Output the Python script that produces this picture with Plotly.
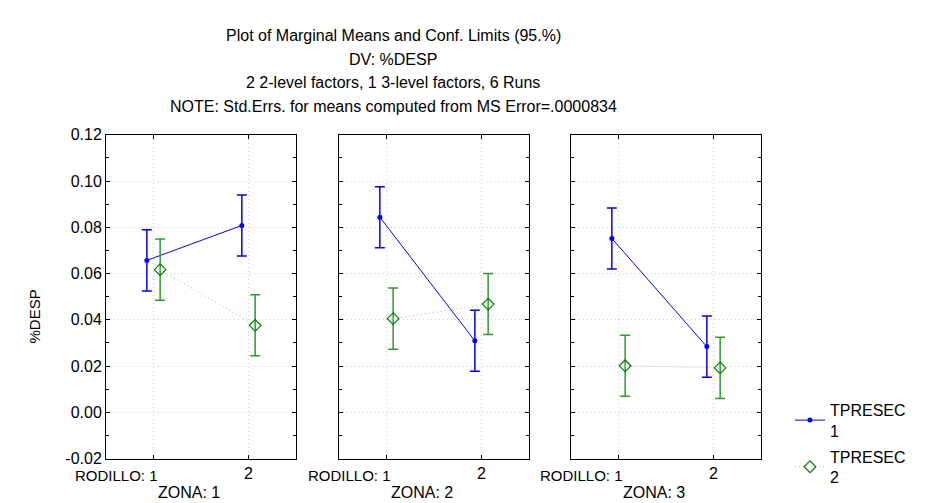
import plotly.graph_objects as go

# ---- data ----
zones = ["ZONA: 1", "ZONA: 2", "ZONA: 3"]
rodillo = [1, 2]
rodillo_labels = ["RODILLO: 1", "2"]
tpresec_names = ["TPRESEC<br>1", "TPRESEC<br>2"]
tpresec1_means = [[0.0657, 0.0808], [0.0844, 0.0309], [0.0752, 0.0284]]
tpresec2_means = [[0.0617, 0.0376], [0.0405, 0.0468], [0.0201, 0.0192]]
ci_half = 0.0132
y_ticks = [-0.02, 0.00, 0.02, 0.04, 0.06, 0.08, 0.10, 0.12]
y_tick_labels = ["-0.02", "0.00", "0.02", "0.04", "0.06", "0.08", "0.10", "0.12"]
title_lines = [
    "Plot of Marginal Means and Conf. Limits (95.%)",
    "DV: %DESP",
    "2 2-level factors, 1 3-level factors, 6 Runs",
    "NOTE: Std.Errs. for means computed from MS Error=.0000834",
]
y_title = "%DESP"

# ---- styling ----
W, H = 933, 503
FONT = "Liberation Sans, Arial, sans-serif"
BLUE = "#0000ff"
GREEN = "#008000"
GREEN_LINE = "#7fcf7f"
GRID = "#d2d2d2"
domains = [(98, 288), (331, 521), (563, 753)]
y_top, y_bot = 123, 458
offset = 0.07

fig = go.Figure()
for i, z in enumerate(zones):
    xa = "x" if i == 0 else f"x{i+1}"
    ya = "y" if i == 0 else f"y{i+1}"
    fig.add_trace(go.Scatter(
        x=[r - offset for r in rodillo], y=tpresec1_means[i], xaxis=xa, yaxis=ya,
        mode="lines+markers", name=tpresec_names[0], legendgroup="a",
        showlegend=(i == 0),
        line=dict(color=BLUE, width=1),
        marker=dict(symbol="circle", size=5, color=BLUE),
        error_y=dict(type="constant", value=ci_half, color=BLUE, thickness=1.5, width=5),
    ))
    fig.add_trace(go.Scatter(
        x=[r + offset for r in rodillo], y=tpresec2_means[i], xaxis=xa, yaxis=ya,
        mode="lines+markers", name=tpresec_names[1], legendgroup="b",
        showlegend=(i == 0),
        line=dict(color=GREEN_LINE, width=1, dash="1px,3px"),
        marker=dict(symbol="diamond-open", size=9, color=GREEN, line=dict(width=1.2)),
        error_y=dict(type="constant", value=ci_half, color="#2e9a2e", thickness=1.5, width=5),
    ))

layout = dict(
    width=W, height=H, margin=dict(l=0, r=0, t=0, b=0),
    paper_bgcolor="white", plot_bgcolor="white",
    font=dict(family=FONT, size=16, color="black"),
    legend=dict(x=782 / W, y=1 - 390 / H, xanchor="left", yanchor="top",
                font=dict(size=16), bgcolor="rgba(0,0,0,0)", tracegroupgap=2),
)
annotations = []
for i, (x0, x1) in enumerate(domains):
    sfx = "" if i == 0 else str(i + 1)
    layout["xaxis" + sfx] = dict(
        domain=[x0 / W, x1 / W], range=[0.5, 2.5], anchor="y" + sfx,
        tickvals=rodillo, ticktext=[""] + rodillo_labels[1:],
        ticks="inside", ticklen=4, tickcolor="black",
        showline=True, linecolor="black", linewidth=1, mirror="ticks",
        showgrid=True, gridcolor=GRID, griddash="1px,3px", gridwidth=1,
        zeroline=False, tickfont=dict(size=16),
    )
    layout["yaxis" + sfx] = dict(
        domain=[1 - y_bot / H, 1 - y_top / H], range=[-0.02, 0.12], anchor="x" + sfx,
        tickvals=y_ticks, ticktext=y_tick_labels, showticklabels=(i == 0),
        ticks="inside", ticklen=4, tickcolor="black",
        minor=dict(dtick=0.01, ticks="inside", ticklen=3, tickcolor="black", showgrid=False),
        showline=True, linecolor="black", linewidth=1, mirror="ticks",
        showgrid=True, gridcolor=GRID, griddash="1px,3px", gridwidth=1,
        zeroline=False, tickfont=dict(size=16),
    )
    annotations.append(dict(
        xref="x" + sfx, yref="paper", x=rodillo[0], y=1 - 476 / H,
        text=rodillo_labels[0], showarrow=False, xanchor="right", yanchor="middle",
        xshift=6, font=dict(size=15),
    ))
    annotations.append(dict(
        xref=f"x{sfx} domain", yref="paper", x=0.5, y=1 - 493 / H,
        text=zones[i], showarrow=False, xanchor="center", yanchor="middle",
        xshift=-12, font=dict(size=16),
    ))

for k, line in enumerate(title_lines):
    annotations.append(dict(
        xref="paper", yref="paper", x=385 / W, y=1 - (20 + 24.6 * k) / H,
        text=line, showarrow=False, xanchor="center", yanchor="middle",
        font=dict(size=16),
    ))
annotations.append(dict(
    xref="paper", yref="paper", x=26 / W, y=1 - 311 / H, text=y_title,
    showarrow=False, textangle=-90, xanchor="center", yanchor="middle",
    font=dict(size=15),
))
layout["annotations"] = annotations
fig.update_layout(**layout)
fig.write_html("out.html")
